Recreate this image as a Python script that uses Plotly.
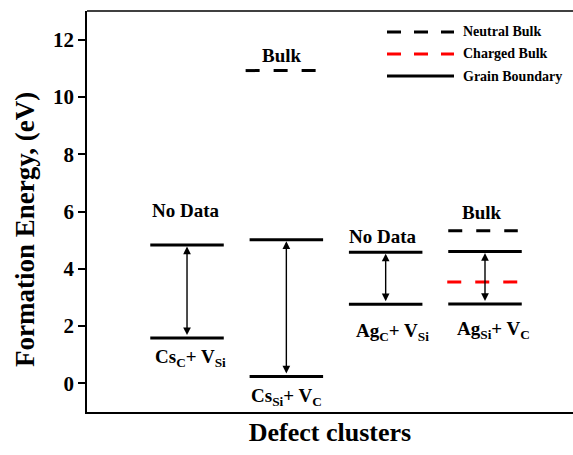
import plotly.graph_objects as go

# ---- data ----
clusters = ["Cs<sub>C</sub>+ V<sub>Si</sub>", "Cs<sub>Si</sub>+ V<sub>C</sub>",
            "Ag<sub>C</sub>+ V<sub>Si</sub>", "Ag<sub>Si</sub>+ V<sub>C</sub>"]
positions = [1, 2, 3, 4]
gb_upper = [4.83, 5.01, 4.58, 4.60]
gb_lower = [1.58, 0.24, 2.76, 2.77]
neutral_bulk = [None, 10.92, None, 5.33]
charged_bulk = [None, None, None, 3.54]
bulk_note = ["No Data", "Bulk", "No Data", "Bulk"]
y_ticks = [0, 2, 4, 6, 8, 10, 12]

FONT = "Liberation Serif"
HALF = 0.37
BLACK = "#000000"
RED = "#ff0000"
DASH = "14px,14px"

fig = go.Figure()

# grain boundary levels (solid)
for p, u, l in zip(positions, gb_upper, gb_lower):
    for v in (u, l):
        fig.add_trace(go.Scatter(x=[p - HALF, p + HALF], y=[v, v], mode="lines",
                                 line=dict(color=BLACK, width=3), showlegend=False,
                                 hoverinfo="skip"))

# bulk levels (dashed)
bulk_offset = {2: (-0.41, 0.30), 4: (-0.37, 0.33)}
for p, nb, cb in zip(positions, neutral_bulk, charged_bulk):
    if nb is not None:
        a, b = bulk_offset[p]
        fig.add_trace(go.Scatter(x=[p + a, p + b], y=[nb, nb], mode="lines",
                                 line=dict(color=BLACK, width=3, dash=DASH),
                                 showlegend=False, hoverinfo="skip"))
    if cb is not None:
        a, b = bulk_offset[p]
        fig.add_trace(go.Scatter(x=[p + a - 0.01, p + b], y=[cb, cb], mode="lines",
                                 line=dict(color=RED, width=3, dash=DASH),
                                 showlegend=False, hoverinfo="skip"))

annotations = []
# double-headed arrows
for p, u, l in zip(positions, gb_upper, gb_lower):
    annotations.append(dict(x=p, y=u, ax=p, ay=l, xref="x", yref="y",
                            axref="x", ayref="y", text="", showarrow=True,
                            arrowhead=2, startarrowhead=2, arrowside="end+start",
                            arrowsize=1.1, startarrowsize=1.1, arrowwidth=1.4,
                            arrowcolor=BLACK, standoff=1.5, startstandoff=1.5))

# notes above
note_y = [6.05, 11.43, 5.14, 5.98]
note_dx = [-0.01, -0.04, -0.03, -0.03]
for p, n, ny, dx in zip(positions, bulk_note, note_y, note_dx):
    annotations.append(dict(x=p + dx, y=ny, xref="x", yref="y", text=n, showarrow=False,
                            font=dict(family=FONT, size=19, color=BLACK, weight="bold")))

# cluster labels below
label_y = [0.90, -0.46, 1.80, 1.87]
label_dx = [0.04, 0.0, 0.07, 0.09]
for p, c, ly, dx in zip(positions, clusters, label_y, label_dx):
    annotations.append(dict(x=p + dx, y=ly, xref="x", yref="y", text=c,
                            showarrow=False,
                            font=dict(family=FONT, size=19, color=BLACK, weight="bold")))

# y-axis title as annotation (offset downward like the reference)
annotations.append(dict(x=(25 - 87) / 486, y=(412 - 230) / 401, xref="paper", yref="paper",
                        xanchor="center", yanchor="middle", textangle=-90,
                        text="Formation Energy, (eV)", showarrow=False,
                        font=dict(family=FONT, size=27, color=BLACK, weight="bold")))

# legend (manual)
leg_items = [("Neutral Bulk", BLACK, "dash"), ("Charged Bulk", RED, "dash"),
             ("Grain Boundary", BLACK, "solid")]
shapes = []
x0p, x1p = (387 - 87) / 486, (454 - 87) / 486
for i, (name, col, st) in enumerate(leg_items):
    ypix = 32 + 22 * i
    yp = (412 - ypix) / 401
    shapes.append(dict(type="line", xref="paper", yref="paper", x0=x0p, x1=x1p,
                       y0=yp, y1=yp,
                       line=dict(color=col, width=3,
                                 dash="14px,13px" if st == "dash" else "solid")))
    annotations.append(dict(x=(461 - 87) / 486, y=yp, xref="paper", yref="paper",
                            xanchor="left", yanchor="middle", text=name, showarrow=False,
                            font=dict(family=FONT, size=14, color=BLACK, weight="bold")))

# top border
shapes.append(dict(type="line", xref="paper", yref="paper", x0=0, x1=1, y0=1, y1=1,
                   line=dict(color=BLACK, width=1.5)))

fig.update_layout(
    width=573, height=455,
    margin=dict(l=87, r=0, t=11, b=43),
    paper_bgcolor="white", plot_bgcolor="white",
    showlegend=False,
    annotations=annotations, shapes=shapes,
    font=dict(family=FONT, color=BLACK),
    xaxis=dict(range=[-0.007, 4.886], showticklabels=False, ticks="", showgrid=False,
               zeroline=False, showline=True, linecolor=BLACK, linewidth=1.5,
               title=dict(text="Defect clusters", standoff=10,
                          font=dict(family=FONT, size=26, color=BLACK, weight="bold"))),
    yaxis=dict(range=[-1, 13], tickvals=y_ticks, ticks="outside", ticklen=7,
               tickwidth=1.5, tickcolor=BLACK, showgrid=False, zeroline=False,
               showline=True, linecolor=BLACK, linewidth=1.5,
               tickfont=dict(family=FONT, size=21, color=BLACK, weight="bold")),
)

fig.write_html("out.html")
